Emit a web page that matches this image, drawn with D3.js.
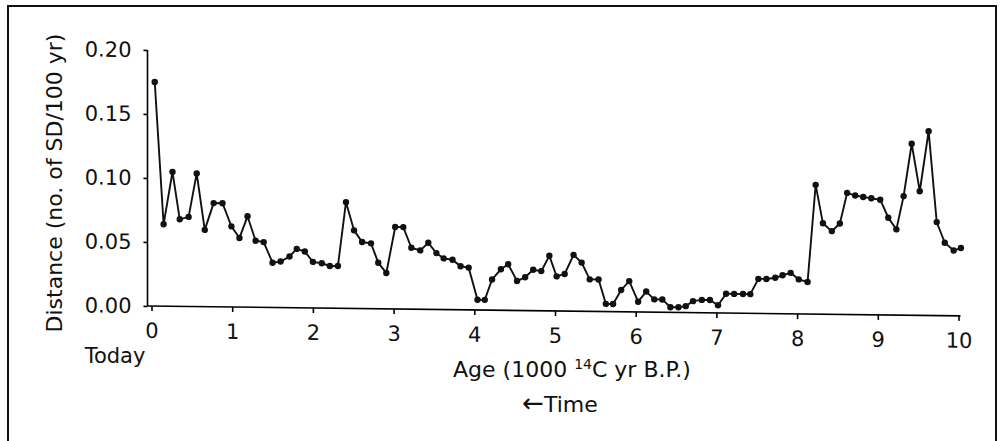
<!DOCTYPE html>
<html>
<head>
<meta charset="utf-8">
<script src="https://cdn.jsdelivr.net/npm/d3@7"></script>
<style>
  body { margin: 0; background: #fff; }
  text { font-family: "DejaVu Sans", sans-serif; fill: #111; }
</style>
</head>
<body>
<div id="chart"></div>
<script>
// values (age in 1000 14C yr B.P., distance in SD/100 yr)
var ages = [0.04, 0.15, 0.26, 0.35, 0.46, 0.56, 0.66, 0.77, 0.88, 0.99,
            1.09, 1.19, 1.29, 1.39, 1.50, 1.60, 1.71, 1.80, 1.90, 2.00,
            2.11, 2.21, 2.31, 2.41, 2.51, 2.61, 2.72, 2.81, 2.91, 3.02,
            3.12, 3.22, 3.33, 3.43, 3.53, 3.62, 3.73, 3.83, 3.93, 4.04,
            4.13, 4.22, 4.33, 4.42, 4.53, 4.63, 4.73, 4.83, 4.93, 5.02,
            5.12, 5.23, 5.33, 5.43, 5.54, 5.63, 5.72, 5.82, 5.92, 6.03,
            6.13, 6.23, 6.33, 6.43, 6.53, 6.62, 6.71, 6.82, 6.92, 7.02,
            7.12, 7.22, 7.33, 7.42, 7.52, 7.62, 7.73, 7.82, 7.92, 8.02,
            8.13, 8.23, 8.32, 8.43, 8.53, 8.62, 8.72, 8.82, 8.92, 9.03,
            9.13, 9.23, 9.32, 9.42, 9.52, 9.63, 9.73, 9.83, 9.94, 10.03]
var distances = [0.175, 0.064, 0.105, 0.068, 0.070, 0.104, 0.060, 0.081, 0.081, 0.063,
                 0.054, 0.071, 0.052, 0.051, 0.035, 0.036, 0.040, 0.046, 0.044, 0.036,
                 0.035, 0.033, 0.033, 0.083, 0.061, 0.052, 0.051, 0.036, 0.028, 0.064,
                 0.064, 0.048, 0.046, 0.052, 0.044, 0.040, 0.039, 0.034, 0.033, 0.008,
                 0.008, 0.024, 0.032, 0.036, 0.023, 0.026, 0.032, 0.031, 0.043, 0.027,
                 0.029, 0.044, 0.038, 0.025, 0.025, 0.006, 0.006, 0.017, 0.024, 0.008,
                 0.016, 0.010, 0.010, 0.004, 0.004, 0.005, 0.009, 0.010, 0.010, 0.006,
                 0.015, 0.015, 0.015, 0.015, 0.027, 0.027, 0.028, 0.030, 0.032, 0.027,
                 0.025, 0.101, 0.071, 0.065, 0.071, 0.095, 0.093, 0.092, 0.091, 0.090,
                 0.076, 0.067, 0.093, 0.134, 0.097, 0.144, 0.073, 0.057, 0.051, 0.053]
var xTicks = [0, 1, 2, 3, 4, 5, 6, 7, 8, 9, 10]
var yTicks = [0, 0.05, 0.10, 0.15, 0.20]

var width = 1003
var height = 441
var marginLeft = 151.5, marginTop = 50
var plotW = 807, plotH = 256

var svg = d3.select("#chart").append("svg")
  .attr("width", width)
  .attr("height", height)

// outer frame of the scanned figure
svg.append("rect")
  .attr("x", 8).attr("y", 6)
  .attr("width", 988).attr("height", 460)
  .attr("fill", "none")
  .attr("stroke", "#111")
  .attr("stroke-width", 2)

var x = d3.scaleLinear().domain([0, 10]).range([0, plotW])
var y = d3.scaleLinear().domain([0, 0.2]).range([plotH, 0])

// the scan is tilted a little, so the plot is sheared to match
var g = svg.append("g")
  .attr("transform", "translate(" + marginLeft + "," + marginTop + ") skewY(0.7)")

// y axis
var yAxis = g.append("g")
  .attr("transform", "translate(-4,0)")
  .call(d3.axisLeft(y).tickValues(yTicks).tickSize(4).tickFormat(d3.format(".2f")))
yAxis.select(".domain").attr("d", "M0,0V" + plotH).attr("stroke-width", 1.6)
yAxis.selectAll(".tick line").attr("stroke-width", 1.6)
yAxis.selectAll(".tick text")
  .attr("x", -16)
  .style("font-size", "21px")

// x axis
var xAxis = g.append("g")
  .attr("transform", "translate(0," + plotH + ")")
  .call(d3.axisBottom(x).tickValues(xTicks).tickSize(5).tickFormat(d3.format("d")))
xAxis.select(".domain").attr("d", "M-4,0H" + (plotW + 2)).attr("stroke-width", 1.6)
xAxis.selectAll(".tick line").attr("stroke-width", 1.6)
xAxis.selectAll(".tick text")
  .attr("y", 17)
  .style("font-size", "21px")

var pts = ages.map(function(a, i) { return {age: a, d: distances[i]} })

var line = d3.line()
  .x(function(d) { return x(d.age) })
  .y(function(d) { return y(d.d) })

g.append("path")
  .datum(pts)
  .attr("d", line)
  .attr("fill", "none")
  .attr("stroke", "#111")
  .attr("stroke-width", 1.9)

g.selectAll(".dot")
  .data(pts)
  .enter()
  .append("circle")
    .attr("class", "dot")
    .attr("cx", function(d) { return x(d.age) })
    .attr("cy", function(d) { return y(d.d) })
    .attr("r", 3.2)
    .attr("fill", "#111")

// labels
svg.append("text")
  .attr("transform", "translate(62,183) rotate(-90)")
  .attr("text-anchor", "middle")
  .style("font-size", "22px")
  .text("Distance (no. of SD/100 yr)")

svg.append("text")
  .attr("x", 115).attr("y", 363)
  .attr("text-anchor", "middle")
  .style("font-size", "21px")
  .text("Today")

var xt = svg.append("text")
  .attr("x", 572).attr("y", 377)
  .attr("text-anchor", "middle")
  .style("font-size", "22px")
xt.append("tspan").text("Age (1000 ")
xt.append("tspan").attr("dy", -8).style("font-size", "14px").text("14")
xt.append("tspan").attr("dy", 8).text("C yr B.P.)")

var tt = svg.append("text")
  .attr("x", 560).attr("y", 412)
  .attr("text-anchor", "middle")
  .style("font-size", "22px")
tt.append("tspan").style("font-size", "26px").text("\u2190")
tt.append("tspan").text("Time")
</script>
</body>
</html>
